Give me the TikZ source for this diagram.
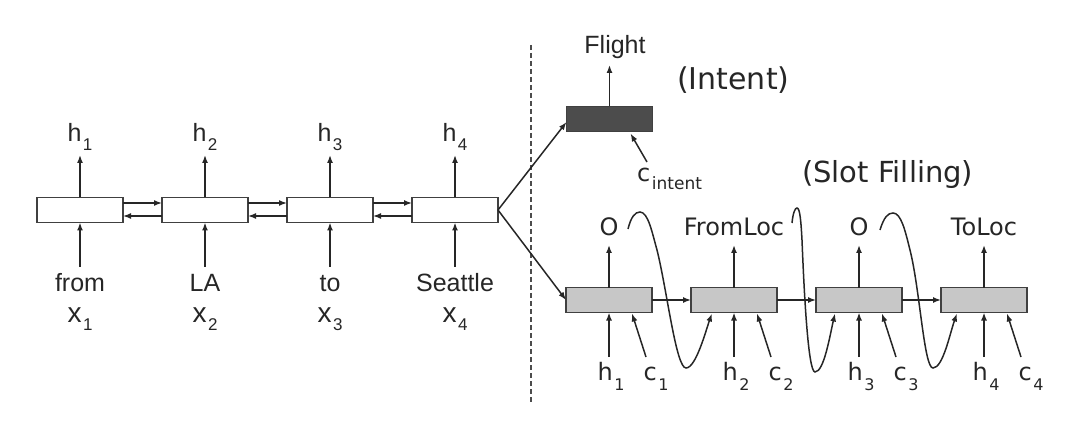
\documentclass[tikz,border=0pt]{standalone}
\usepackage{fontspec}
\setmainfont{Liberation Sans}
\newfontfamily\dv{DejaVu Sans}
\usetikzlibrary{arrows.meta,calc}
\newcommand\fsz[1]{\fontsize{#1}{#1}\selectfont}
\newcommand\mysub[3]{\kern1.5pt\raisebox{-#2pt}{\fsz{#1}#3}}
\begin{document}
\begin{tikzpicture}[x=1pt,y=-1pt,
  line/.style={draw=black!85,line width=1.5pt},
  arr/.style={line,-{Latex[length=8pt,width=6pt]}},
  cell/.style={draw=black!75,line width=1.6pt,minimum width=86pt,minimum height=25pt,inner sep=0pt,outer sep=0pt},
  enc/.style={cell,fill=white},
  slot/.style={cell,fill=black!22},
  intentbox/.style={cell,fill=black!70},
  lbl/.style={inner sep=0pt,anchor=base,text=black!85},
]
\useasboundingbox (0,0) rectangle (1066,422);
% encoder
\foreach \i/\x/\w in {1/80/from,2/205/LA,3/330/to,4/455/Seattle}{
  \node[enc] (l\i) at (\x,210) {};
  \node[lbl] (hl\i) at (\x,142) {\fsz{25}h\mysub{17}{9}{\i}};
  \node[lbl] (w\i) at (\x,291) {\fsz{25}\w};
  \node[lbl] (xl\i) at (\x,322) {\fsz{28}x\mysub{17}{8}{\i}};
  \coordinate (ht\i) at (\x,155);
  \coordinate (xb\i) at (\x,267);
  \draw[arr] (l\i.north) -- (ht\i);
  \draw[arr] (xb\i) -- (l\i.south);
}
\foreach \a/\b in {1/2,2/3,3/4}{
  \draw[arr] ($(l\a.east)+(0,-7)$) -- ($(l\b.west)+(0,-7)$);
  \draw[arr] ($(l\b.west)+(0,6)$) -- ($(l\a.east)+(0,6)$);
}
% divider
\coordinate (dtop) at (531,45);
\coordinate (dbot) at (531,402);
\draw[black!70,line width=1.2pt,dash pattern=on 5pt off 3pt] (dtop) -- (dbot);
% intent
\node[intentbox] (int) at (609.5,119) {};
\node[lbl] (flight) at (615,54) {\fsz{25}Flight};
\coordinate (ft) at (609.5,65);
\draw[arr] (int.north) -- (ft);
\node[lbl,anchor=base west] (intl) at (677,90) {\dv\fsz{30}(Intent)};
\node[lbl,anchor=base west] (cint) at (637,182) {\dv\fsz{24}c\mysub{17}{8}{intent}};
\coordinate (cib) at (647,162);
\draw[arr] (cib) -- ($(int.south)+(21,2)$);
\draw[arr] (l4.east) -- ($(int.west)+(0,3)$);
% slot filling
\node[lbl,anchor=base west] (sfl) at (802,183) {\dv\fsz{29}(Slot Filling)};
\foreach \i/\x/\o in {1/609/O,2/734/FromLoc,3/859/O,4/984/ToLoc}{
  \node[slot] (s\i) at (\x,300) {};
  \node[lbl] (o\i) at (\x,236) {\dv\fsz{24}\o};
  \node[lbl] (hr\i) at (\x+2,380) {\dv\fsz{24}h\mysub{16}{10}{\i}};
  \node[lbl] (cr\i) at (\x+47,380) {\dv\fsz{24}c\mysub{16}{10}{\i}};
  \coordinate (ot\i) at (\x,245);
  \coordinate (hb\i) at (\x,357);
  \coordinate (cb\i) at (\x+37,357);
  \draw[arr] (s\i.north) -- (ot\i);
  \draw[arr] (hb\i) -- (s\i.south);
  \draw[arr] (cb\i) -- ($(s\i.south)+(23,1)$);
}
\draw[arr] (l4.east) -- (s1.west);
\foreach \a/\b in {1/2,2/3,3/4}{
  \draw[arr] (s\a.east) -- (s\b.west);
}
% feedback curves: previous output fed to next step
\coordinate (f1) at (628,229);
\coordinate (f2) at (792,223);
\coordinate (f3) at (880,230);
\draw[arr] (f1) .. controls (631,217) and (635,212) .. (640,212)
  .. controls (648,212) and (652,232) .. (657,250)
  .. controls (667,290) and (676,368) .. (686,368)
  .. controls (696,368) and (706,330) .. ($(s2.south)+(-22,1)$);
\draw[arr] (f2) .. controls (793,213) and (795,208) .. (797,208)
  .. controls (800,208) and (801,222) .. (802,240)
  .. controls (804,290) and (808,372) .. (815,372)
  .. controls (824,372) and (830,335) .. ($(s3.south)+(-24,1)$);
\draw[arr] (f3) .. controls (884,217) and (888,213) .. (893,213)
  .. controls (901,213) and (905,230) .. (910,250)
  .. controls (920,290) and (924,368) .. (933,368)
  .. controls (943,368) and (950,333) .. ($(s4.south)+(-27,1)$);
\end{tikzpicture}
\end{document}
